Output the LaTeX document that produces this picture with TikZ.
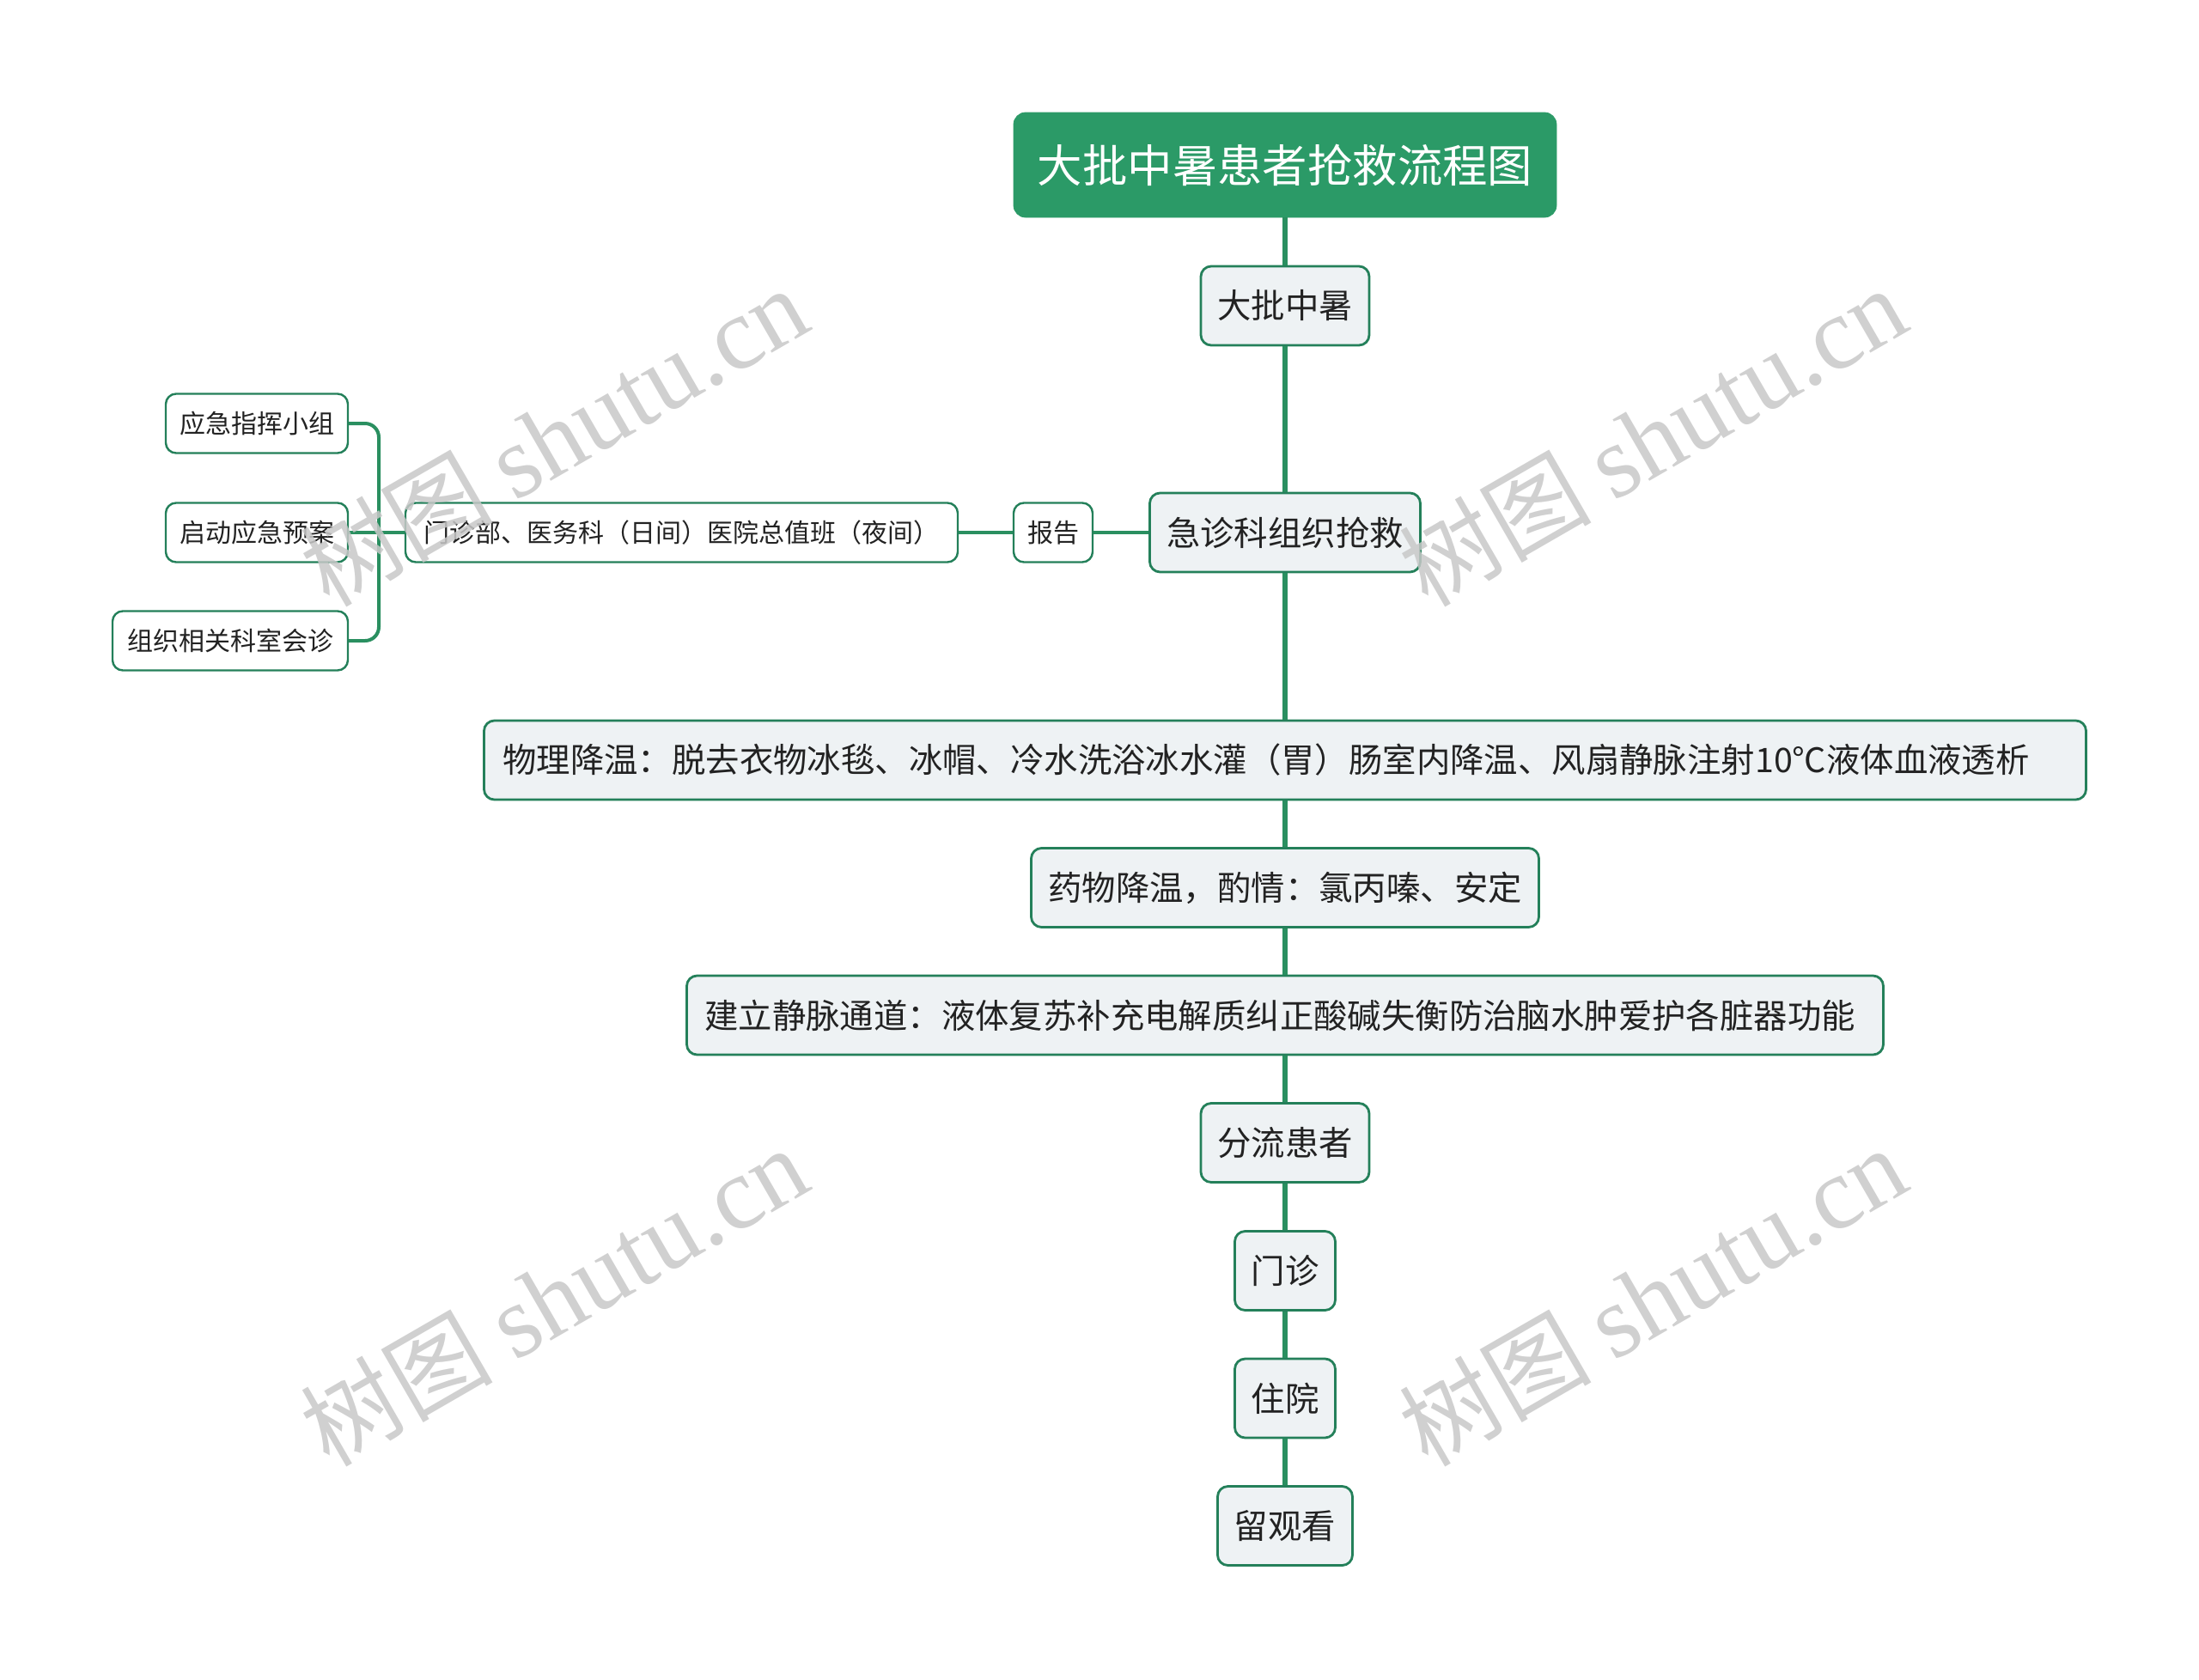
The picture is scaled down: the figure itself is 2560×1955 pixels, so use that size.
\documentclass[tikz,border=0pt]{standalone}
\usepackage{fontspec}
\newfontfamily\cjk{Noto Sans CJK SC}
\newfontfamily\wmlatin{Liberation Serif}
\definecolor{bordergreen}{HTML}{24805A}
\definecolor{linegreen}{HTML}{2A8F60}
\definecolor{titlefill}{HTML}{2B9A67}
\definecolor{nodefill}{HTML}{EEF2F4}
\definecolor{textcol}{HTML}{222222}
\definecolor{wmgray}{HTML}{C8C8C8}
\tikzset{
  titlebox/.style={draw=titlefill, fill=titlefill, rounded corners=7pt, inner sep=0pt,
    minimum width=316pt, minimum height=61pt, text=white, font=\cjk\fontsize{26.2}{31}\selectfont},
  mainbox/.style={draw=bordergreen, line width=1.4pt, fill=nodefill, rounded corners=6pt,
    inner sep=0pt, minimum height=46pt, text=textcol, font=\cjk\fontsize{19.7}{23}\selectfont},
  smallbox/.style={draw=bordergreen, line width=1.2pt, fill=white, rounded corners=6pt,
    inner sep=0pt, minimum height=34.5pt, text=textcol, font=\cjk\fontsize{15}{18}\selectfont},
  link/.style={draw=linegreen, line width=2.6pt},
  sublink/.style={draw=linegreen, line width=2pt},
  watermark/.style={text=wmgray, opacity=0.85, rotate=30, inner sep=0pt}
}
\begin{document}
\begin{tikzpicture}[x=0.5pt,y=-0.5pt]
\useasboundingbox (0,0) rectangle (2560,1955);
\fill[white] (0,0) rectangle (2560,1955);

\coordinate (cT) at (1496,192);
\coordinate (cD) at (1496,356);
\coordinate (cJ) at (1496,620);
\coordinate (cW) at (1496,885);
\coordinate (cY) at (1496,1033.5);
\coordinate (cL) at (1496,1182);
\coordinate (cF) at (1496,1330.5);
\coordinate (cM) at (1496,1479.5);
\coordinate (cZ) at (1496,1628);
\coordinate (cG) at (1496,1776.5);

\node[titlebox] (title) at (cT) {大批中暑患者抢救流程图};
\node[mainbox, minimum width=98pt] (dapi) at (cD) {大批中暑};
\node[mainbox, minimum width=157.5pt] (jizhen) at (cJ) {急诊科组织抢救};
\node[smallbox, minimum width=46pt] (baogao) at (1226,620) {报告};
\node[smallbox, minimum width=321.5pt] (mzb) at (793.5,620) {门诊部、医务科（日间）医院总值班（夜间）};
\node[smallbox, minimum width=106pt] (n1) at (299,493) {应急指挥小组};
\node[smallbox, minimum width=106pt] (n2) at (299,620) {启动应急预案};
\node[smallbox, minimum width=137pt] (n3) at (268,746) {组织相关科室会诊};
\node[mainbox, minimum width=932.5pt] (wuli) at (cW) {物理降温：脱去衣物冰毯、冰帽、冷水洗浴冰水灌（胃）肠室内降温、风扇静脉注射10℃液体血液透析\hspace*{22pt}};
\node[mainbox, minimum width=295.5pt] (yaowu) at (cY) {药物降温，酌情：氯丙嗪、安定};
\node[mainbox, minimum width=696.5pt] (jianli) at (cL) {建立静脉通道：液体复苏补充电解质纠正酸碱失衡防治脑水肿爱护各脏器功能\hspace*{6pt}};
\node[mainbox, minimum width=98pt] (fenliu) at (cF) {分流患者};
\node[mainbox, minimum width=58.5pt] (menzhen) at (cM) {门诊};
\node[mainbox, minimum width=58.5pt] (zhuyuan) at (cZ) {住院};
\node[mainbox, minimum width=78.5pt] (liuguan) at (cG) {留观看};

\draw[link] (title.south) -- (dapi.north);
\draw[link] (dapi.south) -- (jizhen.north);
\draw[link] (jizhen.south) -- (wuli.north);
\draw[link] (wuli.south) -- (yaowu.north);
\draw[link] (yaowu.south) -- (jianli.north);
\draw[link] (jianli.south) -- (fenliu.north);
\draw[link] (fenliu.south) -- (menzhen.north);
\draw[link] (menzhen.south) -- (zhuyuan.north);
\draw[link] (zhuyuan.south) -- (liuguan.north);
\draw[sublink] (jizhen.west) -- (baogao.east);
\draw[sublink] (baogao.west) -- (mzb.east);
\coordinate (bt) at (441,493);
\coordinate (bb) at (441,746);
\draw[sublink, rounded corners=8pt] (n1.east) -- (bt) -- (bb) -- (n3.east);
\draw[sublink] (n2.east) -- (mzb.west);

\foreach \wx/\wy [count=\i] in {645/509, 1924/509, 645/1510, 1924/1510}{
  \node[watermark] (wm\i) at (\wx,\wy) {\cjk\fontsize{56}{60}\selectfont 树图\ \wmlatin\fontsize{60}{64}\selectfont shutu.cn};
}
\end{tikzpicture}
\end{document}
